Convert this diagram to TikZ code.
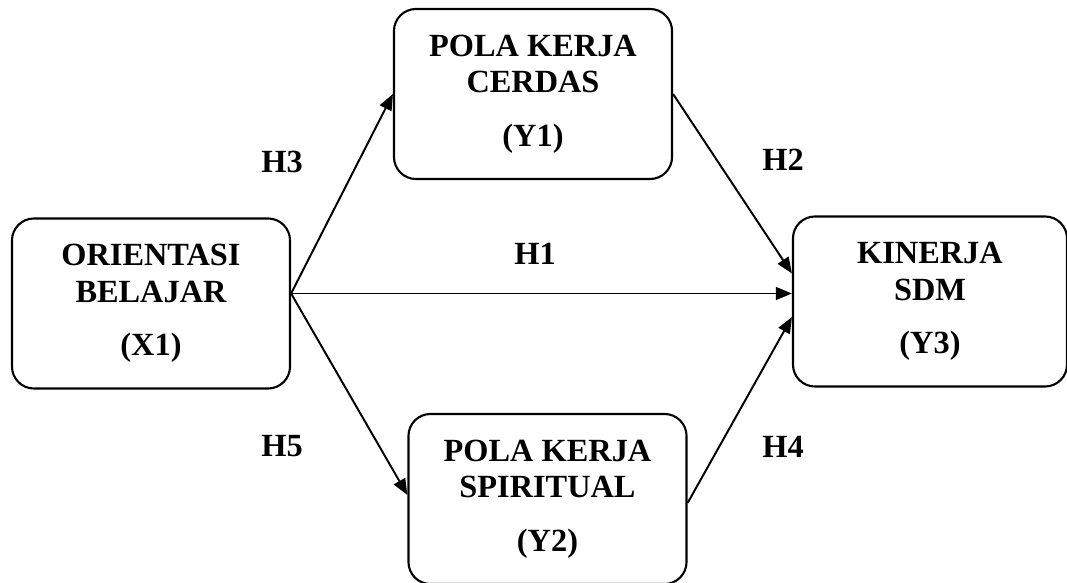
\documentclass[tikz,border=0pt]{standalone}
\usepackage{fontspec}
\setmainfont{Liberation Serif}
\usetikzlibrary{arrows.meta, positioning}

\begin{document}
\begin{tikzpicture}[
      x=0.025cm, y=-0.025cm,
      font=\fontsize{23}{26}\selectfont\bfseries,
      box/.style={rectangle, draw, line width=1.5pt, rounded corners=0.55cm, align=center, inner sep=0pt, minimum width=6.95cm, minimum height=4.25cm},
      arrow/.style={line width=1.4pt,->,>={Triangle[length=4mm,width=3.2mm]}},
      hyp/.style={inner sep=0pt}
    ]
      \useasboundingbox (0,0) rectangle (1067,583);

      \node (orient) [box] at (151,303.5) {ORIENTASI\\BELAJAR\\[12pt](X1)};
      \node (cerdas) [box] at (533,94) {POLA KERJA\\CERDAS\\[12pt](Y1)};
      \node (spirit) [box] at (547.5,499) {POLA KERJA\\SPIRITUAL\\[12pt](Y2)};
      \node (kinerja) [box, minimum width=6.85cm] at (930,301.5) {KINERJA\\SDM\\[12pt](Y3)};

      \coordinate (src) at ([yshift=0.25cm]orient.east);

      \draw [arrow] (src) -- (cerdas.west);
      \draw [arrow] (src) -- (src -| kinerja.west);
      \draw [arrow] (src) -- ([yshift=0.1cm]spirit.west);
      \draw [arrow] (cerdas.east) -- ([yshift=0.7cm]kinerja.west);
      \draw [arrow] ([yshift=-0.1cm]spirit.east) -- ([yshift=-0.39cm]kinerja.west);

      \node (h3) [hyp] at (282,162) {H3};
      \node (h1) [hyp] at (535,254) {H1};
      \node (h2) [hyp] at (783,160) {H2};
      \node (h5) [hyp] at (282,446) {H5};
      \node (h4) [hyp] at (783,447) {H4};
    \end{tikzpicture}
\end{document}
